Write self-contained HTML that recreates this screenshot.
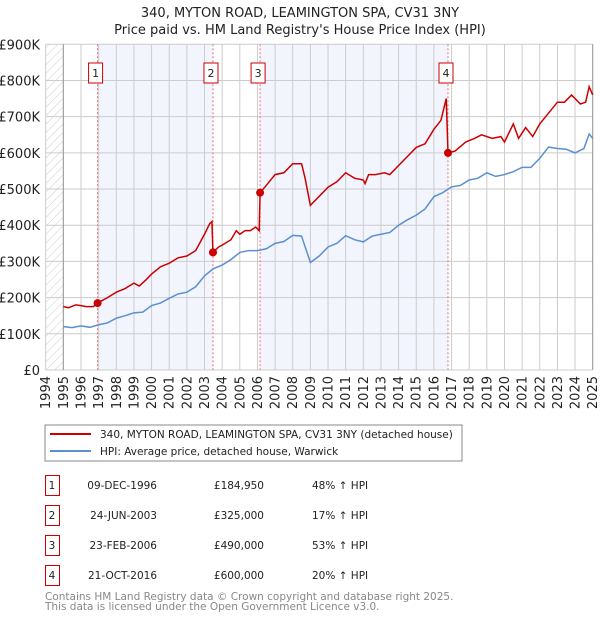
<!DOCTYPE html>
<html><head><meta charset="utf-8"><style>
body{margin:0;background:#fff;width:600px;height:620px;overflow:hidden;font-family:"DejaVu Sans","Liberation Sans",sans-serif;}
svg text{font-family:"DejaVu Sans","Liberation Sans",sans-serif;}
</style></head><body>
<svg id="c" width="600" height="620" xmlns="http://www.w3.org/2000/svg">
<defs><pattern id="hatch" width="6" height="6" patternUnits="userSpaceOnUse" patternTransform="rotate(45)"><line x1="0" y1="0" x2="0" y2="6" stroke="#ccc" stroke-width="1"/></pattern></defs>
<text x="300" y="17" text-anchor="middle" font-size="13" fill="#222">340, MYTON ROAD, LEAMINGTON SPA, CV31 3NY</text>
<text x="300" y="34" text-anchor="middle" font-size="13" fill="#222">Price paid vs. HM Land Registry's House Price Index (HPI)</text>
<g id="plot"></g>
<rect x="45" y="425" width="417" height="36" fill="#fff" stroke="#888"/>
<line x1="50" y1="434" x2="91" y2="434" stroke="#cc0000" stroke-width="2"/>
<text x="100" y="438" font-size="10.5" fill="#222">340, MYTON ROAD, LEAMINGTON SPA, CV31 3NY (detached house)</text>
<line x1="50" y1="451" x2="91" y2="451" stroke="#5b8fd0" stroke-width="2"/>
<text x="100" y="455" font-size="10.5" fill="#222">HPI: Average price, detached house, Warwick</text>
<g id="table" font-size="10.5" fill="#222"></g>
<text x="45" y="600" font-size="10.5" fill="#888">Contains HM Land Registry data © Crown copyright and database right 2025.</text>
<text x="45" y="610" font-size="10.5" fill="#888">This data is licensed under the Open Government Licence v3.0.</text>
</svg>
<script>
const yTicks=[0,100,200,300,400,500,600,700,800,900];
const yTickLabels=["£0","£100K","£200K","£300K","£400K","£500K","£600K","£700K","£800K","£900K"];
const years=[1994,1995,1996,1997,1998,1999,2000,2001,2002,2003,2004,2005,2006,2007,2008,2009,2010,2011,2012,2013,2014,2015,2016,2017,2018,2019,2020,2021,2022,2023,2024,2025];
const hpiT=[1995,1995.5,1996,1996.5,1997,1997.5,1998,1998.5,1999,1999.5,2000,2000.5,2001,2001.5,2002,2002.5,2003,2003.5,2004,2004.5,2005,2005.5,2006,2006.5,2007,2007.5,2008,2008.5,2009,2009.5,2010,2010.5,2011,2011.5,2012,2012.5,2013,2013.5,2014,2014.5,2015,2015.5,2016,2016.5,2017,2017.5,2018,2018.5,2019,2019.5,2020,2020.5,2021,2021.5,2022,2022.5,2023,2023.5,2024,2024.5,2024.8,2025];
const hpiV=[120,117,122,118,125,130,143,150,158,160,178,185,198,210,215,230,260,280,290,305,325,330,330,335,350,355,372,370,297,315,340,350,371,360,354,370,375,380,400,415,428,445,479,490,506,510,525,530,545,535,540,548,560,560,585,616,612,610,600,612,652,640];
const priceT=[1995,1995.3,1995.7,1996,1996.3,1996.7,1996.94,1997.5,1998,1998.5,1999,1999.3,1999.7,2000,2000.5,2001,2001.5,2002,2002.5,2003,2003.3,2003.42,2003.48,2003.8,2004,2004.5,2004.8,2005,2005.3,2005.6,2005.9,2006.1,2006.15,2006.5,2007,2007.5,2008,2008.5,2008.7,2009,2009.5,2010,2010.5,2011,2011.5,2012,2012.1,2012.3,2012.7,2013.2,2013.5,2014,2014.5,2015,2015.5,2016,2016.4,2016.7,2016.8,2017.2,2017.8,2018.3,2018.7,2019.3,2019.8,2020,2020.5,2020.8,2021.2,2021.6,2022,2022.5,2023,2023.4,2023.8,2024.3,2024.6,2024.8,2025];
const priceV=[175,172,180,178,175,175,185,200,215,225,240,232,250,265,285,295,310,315,330,375,405,410,325,340,345,360,385,375,385,385,395,385,490,510,540,545,570,570,530,455,480,505,520,545,530,525,515,540,540,545,540,565,590,615,625,665,690,750,600,605,630,640,650,640,645,630,680,640,670,645,680,710,740,740,760,735,740,783,760];
const saleT=[1996.94,2003.48,2006.15,2016.8];
const saleV=[184.95,325,490,600];
const saleLabels=["1","2","3","4"];
const saleDates=["09-DEC-1996","24-JUN-2003","23-FEB-2006","21-OCT-2016"];
const salePrices=["£184,950","£325,000","£490,000","£600,000"];
const saleHpi=["48% ↑ HPI","17% ↑ HPI","53% ↑ HPI","20% ↑ HPI"];
const NS="http://www.w3.org/2000/svg";
const L=45.7,R=592.7,T=44.3,B=370;
const x=t=>L+(t-1994)*(R-L)/31;
const y=v=>B-v*(B-T)/900;
function mk(tag,attrs,parent){const e=document.createElementNS(NS,tag);for(const k in attrs)e.setAttribute(k,attrs[k]);parent.appendChild(e);return e;}
const g=document.getElementById('plot');
for(let i=0;i<saleT.length;i+=2){
 const end=i+1<saleT.length?saleT[i+1]:2025;
 const b=mk('rect',{x:x(saleT[i]),y:T,width:x(end)-x(saleT[i]),height:B-T,fill:'#f2f5fe'},g);
 
 
}
const h=mk('rect',{x:L,y:T,width:x(1995)-L,height:B-T,fill:'url(#hatch)'},g);


years.forEach(yr=>{
 const ln=mk('line',{x1:x(yr),x2:x(yr),y1:T,y2:B,stroke:'#ccc','stroke-width':1},g);
 
 
 const tx=mk('text',{x:0,y:0,transform:`translate(${x(yr)+4.5},${B+6}) rotate(-90)`,'text-anchor':'end','font-size':13,fill:'#222'},g);
 tx.textContent=yr;
 
 
});
yTicks.forEach((v,i)=>{
 const ln=mk('line',{x1:L,x2:R,y1:y(v),y2:y(v),stroke:'#ccc','stroke-width':1},g);
 
 
 const tx=mk('text',{x:40,y:y(v)+5,'text-anchor':'end','font-size':13,fill:'#222'},g);
 tx.textContent=yTickLabels[i];
 
 
});
const ax=mk('line',{x1:x(1995),x2:x(1995),y1:T,y2:B,stroke:'#999','stroke-width':1},g);


const ax2=mk('line',{x1:R,x2:R,y1:T,y2:B,stroke:'#999','stroke-width':1},g);


saleT.forEach((t,i)=>{
 const ln=mk('line',{x1:x(t),x2:x(t),y1:T,y2:B,stroke:'#f07070','stroke-width':1,'stroke-dasharray':'2,2'},g);
 
 
 const bx=mk('rect',{x:x(t)-9,y:63,width:14,height:20,fill:'#fff',stroke:'#cc0000'},g);
 
 
 const tx=mk('text',{x:x(t)-2,y:77,'text-anchor':'middle','font-size':11,fill:'#222'},g);
 tx.textContent=saleLabels[i];
 
 
});
const hp=mk('polyline',{points:hpiT.map((t,i)=>x(t)+','+y(hpiV[i])).join(' '),fill:'none',stroke:'#5b8fd0','stroke-width':1.5},g);


const pp=mk('polyline',{points:priceT.map((t,i)=>x(t)+','+y(priceV[i])).join(' '),fill:'none',stroke:'#cc0000','stroke-width':1.5},g);


saleT.forEach((t,i)=>{
 const c=mk('circle',{cx:x(t),cy:y(saleV[i]),r:4,fill:'#cc0000'},g);
 
 
});
const tb=document.getElementById('table');
saleT.forEach((t,i)=>{
 const yy=475+i*30;
 const bx=mk('rect',{x:45.5,y:yy+0.5,width:14,height:20,fill:'#fff',stroke:'#cc0000'},tb);
 
 
 const cells=[[52,'middle',saleLabels[i]],[157,'end',saleDates[i]],[264,'end',salePrices[i]],[312,'start',saleHpi[i]]];
 cells.forEach(c=>{
  const tx=mk('text',{x:c[0],y:yy+14,'text-anchor':c[1]},tb);
  tx.textContent=c[2];
  
  
 });
});
</script>
</body></html>
